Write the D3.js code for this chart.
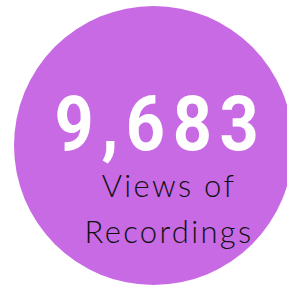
<!DOCTYPE html>
<html><head><meta charset="utf-8">
<script src="https://cdn.jsdelivr.net/npm/d3@7"></script>
<style>html,body{margin:0;padding:0;background:#fff;}</style>
</head><body>
<div id="chart"></div>
<script>
const value = [9683];
const labelLines = ["Views of", "Recordings"];
const colors = ["#c86ae4"];

const W = 287, H = 286;
const svg = d3.select("#chart").append("svg").attr("width", W).attr("height", H);

const cx = 153.5, cy = 145.5, r = 139.5;
svg.append("circle").attr("cx", cx).attr("cy", cy).attr("r", r).attr("fill", colors[0]);

svg.append("text")
  .attr("transform", "translate(160.5,149.5) scale(0.9,1)")
  .attr("text-anchor", "middle")
  .attr("font-family", "Roboto")
  .attr("font-weight", 700)
  .attr("font-size", 76)
  .attr("letter-spacing", 8.5)
  .attr("fill", "#fff")
  .text(d3.format(",")(value[0]));

svg.selectAll("text.lbl").data(labelLines).join("text")
  .attr("class", "lbl")
  .attr("x", 169)
  .attr("y", (d, i) => 197.3 + i * 45.4)
  .attr("text-anchor", "middle")
  .attr("font-family", "Lato")
  .attr("font-weight", 300)
  .attr("font-size", 31)
  .attr("letter-spacing", 2.3)
  .attr("fill", "#111")
  .text(d => d);
</script>
</body></html>
